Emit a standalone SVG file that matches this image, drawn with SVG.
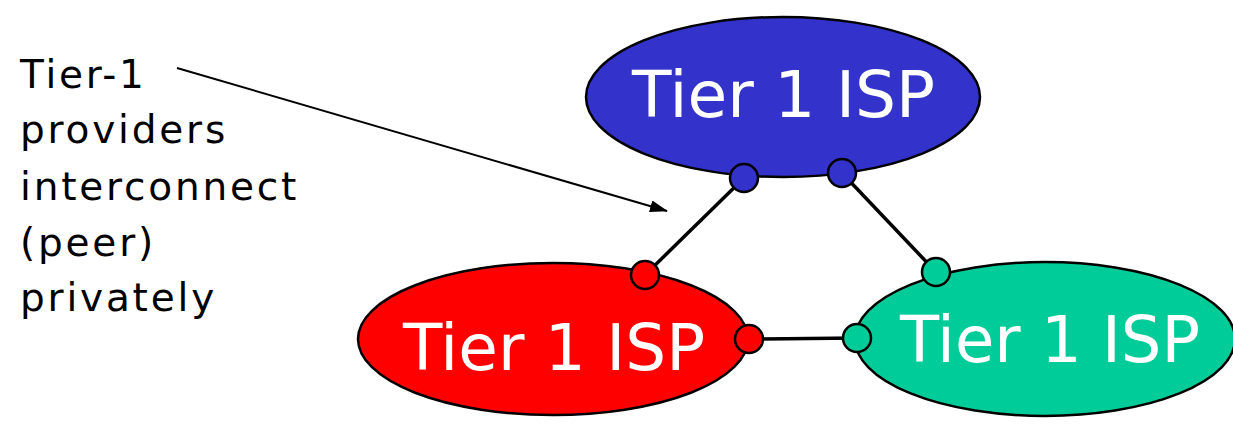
<svg xmlns="http://www.w3.org/2000/svg" width="1233" height="427" viewBox="0 0 1233 427">
<style>
.isp{stroke:#000;stroke-width:2.5}
.lbl{font-family:"DejaVu Sans","Liberation Sans",sans-serif;font-size:64px;fill:#fff}
.port{stroke:#000;stroke-width:2.5}
.link{stroke:#000;stroke-width:3.5;fill:none}
.note{font-family:"DejaVu Sans","Liberation Sans",sans-serif;font-size:39px;fill:#000;letter-spacing:2.8px}
</style>
<defs>
<marker id="ah" viewBox="0 0 18 12" refX="17" refY="6" markerWidth="18" markerHeight="12" markerUnits="userSpaceOnUse" orient="auto">
<path d="M0,0 L18,6 L0,12 z" fill="#000"/>
</marker>
</defs>
<rect width="1233" height="427" fill="#fff"/>
<g id="connectors">
<line class="link" x1="744" y1="178" x2="645" y2="275"/>
<line class="link" x1="842" y1="173" x2="936" y2="272"/>
<line class="link" x1="749" y1="339" x2="857" y2="338"/>
<line x1="177" y1="68" x2="667" y2="211" stroke="#000" stroke-width="2" marker-end="url(#ah)"/>
</g>
<g id="note">
<text class="note" x="20" y="88">Tier-1</text>
<text class="note" x="20" y="143">providers</text>
<text class="note" x="20" y="200">interconnect</text>
<text class="note" x="20" y="256">(peer)</text>
<text class="note" x="20" y="311">privately</text>
</g>
<g id="isp-top">
<ellipse class="isp" cx="783" cy="97" rx="197" ry="80" fill="#3333CC"/>
<text class="lbl" x="632" y="117" textLength="303" lengthAdjust="spacingAndGlyphs">Tier 1 ISP</text>
<circle class="port" cx="744" cy="178" r="14" fill="#3333CC"/>
<circle class="port" cx="842" cy="173" r="14" fill="#3333CC"/>
</g>
<g id="isp-left">
<ellipse class="isp" cx="553" cy="339" rx="195" ry="76" fill="#FF0000"/>
<text class="lbl" x="403" y="370" textLength="302" lengthAdjust="spacingAndGlyphs">Tier 1 ISP</text>
<circle class="port" cx="645" cy="275" r="14" fill="#FF0000"/>
<circle class="port" cx="749" cy="339" r="14" fill="#FF0000"/>
</g>
<g id="isp-right">
<ellipse class="isp" cx="1045" cy="339" rx="190" ry="77" fill="#00CC99"/>
<text class="lbl" x="900" y="362" textLength="300" lengthAdjust="spacingAndGlyphs">Tier 1 ISP</text>
<circle class="port" cx="857" cy="338" r="14" fill="#00CC99"/>
<circle class="port" cx="936" cy="272" r="14" fill="#00CC99"/>
</g>
</svg>
